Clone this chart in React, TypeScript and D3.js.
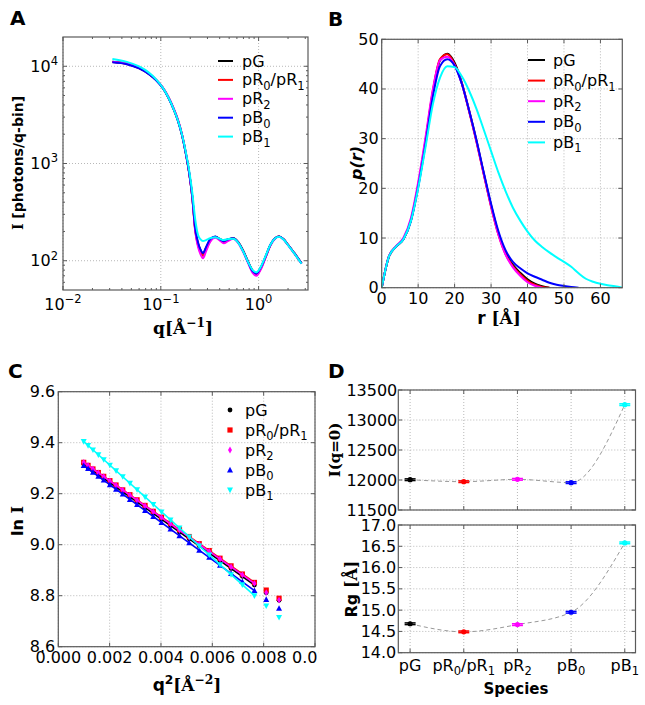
import React from 'react';
import * as d3 from 'd3';

const SANS = "'DejaVu Sans', sans-serif";
const SERIF = "'DejaVu Serif', serif";
const ANG = '\u00C5';

const NAMES = ['pG', 'pR_0/pR_1', 'pR_2', 'pB_0', 'pB_1'];
const COLORS = ['#000000', '#ff0000', '#ff00ff', '#0000ff', '#00ffff'];

// ---- Panel A : scattering curves I(q)
const Q_A = [0.032, 0.045, 0.06, 0.075, 0.09, 0.105, 0.12, 0.135, 0.15, 0.165, 0.18, 0.195, 0.21, 0.225, 0.24, 0.255, 0.27, 0.29, 0.32, 0.36, 0.40, 0.44, 0.49, 0.55, 0.62, 0.70, 0.78, 0.87, 0.95, 1.05, 1.18, 1.32, 1.48, 1.62, 1.8, 2.0, 2.3, 2.75];
const I_PG = [11100, 10600, 9600, 8400, 7200, 6000, 4750, 3650, 2750, 1950, 1280, 800, 450, 210, 150, 128, 118, 135, 163, 176, 168, 160, 166, 170, 155, 125, 98, 79, 74, 84, 110, 145, 170, 177, 166, 146, 121, 94];
const I_PR01 = [11050, 10550, 9580, 8400, 7200, 6000, 4780, 3680, 2780, 1970, 1290, 800, 445, 205, 145, 122, 112, 130, 160, 175, 165, 155, 163, 169, 154, 124, 97, 77, 72, 82, 109, 144, 170, 177, 166, 146, 121, 94];
const I_PR2 = [11100, 10600, 9650, 8450, 7250, 6050, 4800, 3700, 2800, 1980, 1300, 810, 445, 200, 140, 116, 106, 125, 157, 172, 162, 151, 160, 168, 152, 121, 95, 75, 70, 81, 108, 143, 169, 176, 165, 145, 120, 93];
const I_PB0 = [11000, 10500, 9500, 8350, 7150, 5950, 4720, 3630, 2730, 1940, 1270, 800, 455, 215, 155, 130, 120, 138, 167, 177, 167, 159, 166, 170, 154, 124, 97, 78, 74, 85, 111, 146, 171, 177, 166, 146, 121, 94];
const I_PB1 = [11900, 11100, 9950, 8650, 7300, 6000, 4750, 3650, 2750, 1970, 1320, 850, 500, 265, 185, 166, 160, 163, 170, 174, 168, 163, 167, 168, 153, 123, 97, 80, 76, 86, 112, 146, 170, 176, 165, 145, 120, 93];
const A_X_TICKS = [0.01, 0.1, 1];
const A_X_LABELS = ['-2', '-1', '0'];
const A_Y_TICKS = [100, 1000, 10000];
const A_Y_LABELS = ['2', '3', '4'];

// ---- Panel B : pair distance distributions p(r)
const R_GRID = [0, 2, 4, 6, 8, 10, 12, 14, 16, 18, 20, 22, 24, 26, 28, 30, 32, 34, 36, 38, 40, 42, 44, 46, 48, 50, 52, 54, 56, 58, 60, 62, 64, 66];
const P_PG = [0, 6.3, 8.3, 9.8, 13.5, 20.5, 29.3, 39.2, 45.8, 47.1, 45.3, 41.2, 35.6, 29.6, 23.0, 16.6, 11.0, 7.0, 4.6, 3.0, 1.7, 0.8, 0.3, 0];
const P_PR01 = [0, 6.3, 8.3, 9.9, 13.6, 20.7, 29.6, 39.5, 46.0, 47.0, 45.0, 41.0, 35.4, 29.3, 22.8, 16.3, 10.7, 6.7, 4.3, 2.7, 1.4, 0.6, 0.15, 0];
const P_PR2 = [0, 6.4, 8.4, 10.1, 14.0, 21.2, 30.2, 39.8, 45.8, 46.5, 44.8, 41.0, 35.5, 29.4, 22.9, 16.4, 10.7, 6.6, 4.1, 2.4, 1.1, 0.4, 0];
const P_PB0 = [0, 6.3, 8.3, 9.8, 13.4, 20.2, 28.8, 38.3, 44.6, 46.0, 44.7, 41.0, 35.6, 29.7, 23.2, 16.9, 11.4, 7.5, 5.2, 3.9, 2.9, 2.2, 1.6, 1.0, 0.6, 0.35, 0.15, 0];
const P_PB1 = [0, 6.3, 8.3, 9.8, 13.4, 20.0, 28.2, 36.8, 42.3, 44.6, 44.4, 42.5, 39.6, 36.0, 31.8, 27.5, 23.2, 19.4, 16.1, 13.5, 11.3, 9.5, 8.2, 7.1, 6.1, 5.2, 4.2, 2.9, 1.8, 1.2, 0.8, 0.5, 0.3, 0];
const B_X_TICKS = [0, 10, 20, 30, 40, 50, 60];
const B_Y_TICKS = [0, 10, 20, 30, 40, 50];

// ---- Panel C : Guinier plots
const Q2_C = [0.00099, 0.00116, 0.00135, 0.00156, 0.00177, 0.00201, 0.00225, 0.00251, 0.00279, 0.00307, 0.00338, 0.0037, 0.00402, 0.00437, 0.00472, 0.0051, 0.00549, 0.00588, 0.0063, 0.00673, 0.00717, 0.00764, 0.0081, 0.0086];
const FIT_N = 22;
const LN_PG = [9.316, 9.303, 9.290, 9.275, 9.260, 9.243, 9.226, 9.207, 9.187, 9.167, 9.145, 9.123, 9.100, 9.075, 9.050, 9.023, 8.995, 8.967, 8.937, 8.907, 8.876, 8.842, 8.812, 8.782];
const LN_PR01 = [9.323, 9.311, 9.297, 9.283, 9.268, 9.251, 9.234, 9.215, 9.196, 9.176, 9.154, 9.131, 9.108, 9.084, 9.059, 9.032, 9.004, 8.977, 8.947, 8.917, 8.885, 8.852, 8.822, 8.790];
const LN_PR2 = [9.323, 9.311, 9.297, 9.282, 9.267, 9.250, 9.233, 9.214, 9.194, 9.174, 9.152, 9.129, 9.107, 9.082, 9.057, 9.029, 9.002, 8.974, 8.944, 8.913, 8.882, 8.848, 8.812, 8.783];
const LN_PB0 = [9.310, 9.298, 9.284, 9.268, 9.253, 9.235, 9.217, 9.198, 9.177, 9.157, 9.134, 9.110, 9.087, 9.061, 9.035, 9.007, 8.978, 8.950, 8.919, 8.887, 8.855, 8.820, 8.785, 8.750];
const LN_PB1 = [9.405, 9.389, 9.372, 9.353, 9.334, 9.312, 9.290, 9.267, 9.241, 9.216, 9.187, 9.158, 9.129, 9.097, 9.066, 9.031, 8.995, 8.960, 8.922, 8.883, 8.843, 8.800, 8.760, 8.715];
const C_X_TICKS = [0, 0.002, 0.004, 0.006, 0.008, 0.010];
const C_Y_TICKS = [8.6, 8.8, 9.0, 9.2, 9.4, 9.6];

// ---- Panel D : I(0) and Rg per species
const I0 = [12005, 11972, 12011, 11956, 13256];
const I0_ERR = [14, 14, 14, 14, 14];
const RG = [14.68, 14.49, 14.66, 14.95, 16.58];
const RG_ERR = [0.02, 0.02, 0.02, 0.02, 0.02];
const D1_Y_TICKS = [11500, 12000, 12500, 13000, 13500];
const D2_Y_TICKS = [14.0, 14.5, 15.0, 15.5, 16.0, 16.5, 17.0];

const A_SERIES = [I_PG, I_PR01, I_PR2, I_PB0, I_PB1];
const B_SERIES = [P_PG, P_PR01, P_PR2, P_PB0, P_PB1];
const C_SERIES = [LN_PG, LN_PR01, LN_PR2, LN_PB0, LN_PB1];

type Seg = { t: string; k?: 'sub' | 'sup'; f?: string; i?: boolean };

function parseName(n: string): Seg[] {
  const out: Seg[] = [];
  let buf = '';
  for (let i = 0; i < n.length; i++) {
    if (n[i] === '_') {
      if (buf) out.push({ t: buf });
      buf = '';
      out.push({ t: n[i + 1], k: 'sub' });
      i++;
    } else buf += n[i];
  }
  if (buf) out.push({ t: buf });
  return out;
}

function Segs({ segs, size }: { segs: Seg[]; size: number }) {
  let off = 0;
  return (
    <>
      {segs.map((s, j) => {
        const target = s.k === 'sub' ? size * 0.28 : s.k === 'sup' ? -size * 0.42 : 0;
        const dy = target - off;
        off = target;
        return (
          <tspan key={j} dy={dy} fontSize={s.k ? size * 0.72 : size} fontFamily={s.f} fontStyle={s.i ? 'italic' : undefined}>
            {s.t}
          </tspan>
        );
      })}
    </>
  );
}

type Box = { l: number; r: number; t: number; b: number };

const GRID_C = '#b8b8b8';
const FRAME_C = '#5a5a5a';

function Grid({ box, xs, ys }: { box: Box; xs: number[]; ys: number[] }) {
  return (
    <g>
      {xs.map((x, i) => (
        <line key={'x' + i} x1={x} x2={x} y1={box.t} y2={box.b} stroke={GRID_C} strokeWidth={1} strokeDasharray="1,2" />
      ))}
      {ys.map((y, i) => (
        <line key={'y' + i} x1={box.l} x2={box.r} y1={y} y2={y} stroke={GRID_C} strokeWidth={1} strokeDasharray="1,2" />
      ))}
    </g>
  );
}

function Frame({ box, xs, ys, xm = [], ym = [] }: { box: Box; xs: number[]; ys: number[]; xm?: number[]; ym?: number[] }) {
  const els: JSX.Element[] = [];
  const add = (x1: number, y1: number, x2: number, y2: number) =>
    els.push(<line key={els.length} x1={x1} y1={y1} x2={x2} y2={y2} stroke={FRAME_C} strokeWidth={1} />);
  xs.forEach((x) => { add(x, box.b, x, box.b - 4); add(x, box.t, x, box.t + 4); });
  xm.forEach((x) => { add(x, box.b, x, box.b - 2); add(x, box.t, x, box.t + 2); });
  ys.forEach((y) => { add(box.l, y, box.l + 4, y); add(box.r, y, box.r - 4, y); });
  ym.forEach((y) => { add(box.l, y, box.l + 2, y); add(box.r, y, box.r - 2, y); });
  return (
    <g>
      {els}
      <rect x={box.l} y={box.t} width={box.r - box.l} height={box.b - box.t} fill="none" stroke={FRAME_C} strokeWidth={1.2} />
    </g>
  );
}

function Marker({ kind, x, y, color, s = 1 }: { kind: number; x: number; y: number; color: string; s?: number }) {
  if (kind === 0) return <circle cx={x} cy={y} r={2.4 * s} fill={color} />;
  if (kind === 1) return <rect x={x - 2.6 * s} y={y - 2.6 * s} width={5.2 * s} height={5.2 * s} fill={color} />;
  if (kind === 2)
    return <path d={`M${x},${y - 3.4 * s}L${x + 2 * s},${y}L${x},${y + 3.4 * s}L${x - 2 * s},${y}Z`} fill={color} />;
  if (kind === 3)
    return <path d={`M${x},${y - 3.2 * s}L${x + 3 * s},${y + 2.4 * s}L${x - 3 * s},${y + 2.4 * s}Z`} fill={color} />;
  return <path d={`M${x},${y + 3.2 * s}L${x + 3 * s},${y - 2.4 * s}L${x - 3 * s},${y - 2.4 * s}Z`} fill={color} />;
}

const TICK_FS = 16;
const LEG_FS = 16;

export default function App() {
  // ---------------- Panel A
  const boxA: Box = { l: 63, r: 308, t: 37, b: 290 };
  const ax = d3.scaleLog().domain([0.01, 3.2]).range([boxA.l, boxA.r]);
  const ay = d3.scaleLog().domain([50, 20000]).range([boxA.b, boxA.t]);
  const axMinor: number[] = [];
  [-2, -1, 0].forEach((k) => d3.range(2, 10).forEach((m) => { const v = m * Math.pow(10, k); if (v < 3.2) axMinor.push(ax(v)); }));
  const ayMinor: number[] = [];
  [1, 2, 3, 4].forEach((k) => d3.range(2, 10).forEach((m) => { const v = m * Math.pow(10, k); if (v > 50 && v < 20000) ayMinor.push(ay(v)); }));
  const lineA = d3.line<number>().x((_, i) => ax(Q_A[i])).y((d) => ay(d)).curve(d3.curveMonotoneX);

  // ---------------- Panel B
  const boxB: Box = { l: 381.7, r: 622.3, t: 39.3, b: 287.7 };
  const bx = d3.scaleLinear().domain([0, 66]).range([boxB.l, boxB.r]);
  const by = d3.scaleLinear().domain([0, 50]).range([boxB.b, boxB.t]);
  const lineB = d3.line<number>().x((_, i) => bx(R_GRID[i])).y((d) => by(d)).curve(d3.curveMonotoneX);

  // ---------------- Panel C
  const boxC: Box = { l: 58.3, r: 315, t: 391.7, b: 646.7 };
  const cx = d3.scaleLinear().domain([0, 0.01]).range([boxC.l, boxC.r]);
  const cy = d3.scaleLinear().domain([8.6, 9.6]).range([boxC.b, boxC.t]);
  const fits = C_SERIES.map((ys) => {
    const xs = Q2_C.slice(0, FIT_N);
    const yy = ys.slice(0, FIT_N);
    const mx = d3.mean(xs)!;
    const my = d3.mean(yy)!;
    let sxy = 0, sxx = 0;
    xs.forEach((x, i) => { sxy += (x - mx) * (yy[i] - my); sxx += (x - mx) * (x - mx); });
    const slope = sxy / sxx;
    const icpt = my - slope * mx;
    return [xs[0], xs[xs.length - 1]].map((x) => [x, icpt + slope * x] as [number, number]);
  });

  // ---------------- Panel D
  const boxD1: Box = { l: 398.3, r: 635.5, t: 390, b: 510 };
  const boxD2: Box = { l: 398.3, r: 635.5, t: 525, b: 652.7 };
  const dx = d3.scaleLinear().domain([-0.22, 4.2]).range([boxD1.l, boxD1.r]);
  const dy1 = d3.scaleLinear().domain([11500, 13500]).range([boxD1.b, boxD1.t]);
  const dy2 = d3.scaleLinear().domain([14, 17]).range([boxD2.b, boxD2.t]);
  const dLine1 = d3.line<number>().x((_, i) => dx(i)).y((d) => dy1(d)).curve(d3.curveMonotoneX);
  const dLine2 = d3.line<number>().x((_, i) => dx(i)).y((d) => dy2(d)).curve(d3.curveMonotoneX);
  const catX = NAMES.map((_, i) => dx(i));

  const errMark = (x: number, y: number, e: number, color: string, key: string) => (
    <g key={key}>
      <line x1={x} x2={x} y1={y - e} y2={y + e} stroke={color} strokeWidth={1.5} />
      <line x1={x - 5.5} x2={x + 5.5} y1={y - e} y2={y - e} stroke={color} strokeWidth={1.5} />
      <line x1={x - 5.5} x2={x + 5.5} y1={y + e} y2={y + e} stroke={color} strokeWidth={1.5} />
      <circle cx={x} cy={y} r={2.6} fill={color} />
    </g>
  );

  return (
    <svg width={645} height={705} style={{ position: 'absolute', left: 0, top: 0, background: '#fff' }} fontFamily={SANS}>
      <defs>
        <clipPath id="clipA"><rect x={boxA.l} y={boxA.t} width={boxA.r - boxA.l} height={boxA.b - boxA.t} /></clipPath>
        <clipPath id="clipB"><rect x={boxB.l} y={boxB.t} width={boxB.r - boxB.l} height={boxB.b - boxB.t} /></clipPath>
        <clipPath id="clipCt"><rect x={0} y={600} width={319} height={105} /></clipPath>
      </defs>
      <rect x={0} y={0} width={645} height={705} fill="#fff" />

      {/* Panel letters */}
      <text x={10} y={25} fontSize={20} fontWeight="bold">A</text>
      <text x={328} y={26} fontSize={20} fontWeight="bold">B</text>
      <text x={8} y={378} fontSize={20} fontWeight="bold">C</text>
      <text x={328} y={378} fontSize={20} fontWeight="bold">D</text>

      {/* ================= Panel A ================= */}
      <Grid box={boxA} xs={A_X_TICKS.map((v) => ax(v))} ys={A_Y_TICKS.map((v) => ay(v))} />
      <g clipPath="url(#clipA)">
        {A_SERIES.map((s, k) => (
          <path key={k} d={lineA(s) || ''} fill="none" stroke={COLORS[k]} strokeWidth={2} />
        ))}
      </g>
      <Frame box={boxA} xs={A_X_TICKS.map((v) => ax(v))} ys={A_Y_TICKS.map((v) => ay(v))} xm={axMinor} ym={ayMinor} />
      {A_X_TICKS.map((v, i) => (
        <text key={'axl' + i} x={ax(v)} y={boxA.b + 20} fontSize={TICK_FS} textAnchor="middle">
          <Segs size={TICK_FS} segs={[{ t: '10' }, { t: A_X_LABELS[i].replace('-', '\u2212'), k: 'sup' }]} />
        </text>
      ))}
      {A_Y_TICKS.map((v, i) => (
        <text key={'ayl' + i} x={boxA.l - 5} y={ay(v) + 5.5} fontSize={TICK_FS} textAnchor="end">
          <Segs size={TICK_FS} segs={[{ t: '10' }, { t: A_Y_LABELS[i], k: 'sup' }]} />
        </text>
      ))}
      <text transform={`translate(18,163) rotate(-90)`} y={4.5} fontSize={14} fontWeight="bold" textAnchor="middle">
        <tspan fontFamily={SERIF}>I</tspan>
        <tspan> [photons/q-bin]</tspan>
      </text>
      <text x={183} y={334} fontSize={17} fontWeight="bold" textAnchor="middle" fontFamily={SERIF}>
        <Segs size={17} segs={[{ t: 'q[' + ANG }, { t: '\u22121', k: 'sup' }, { t: ']' }]} />
      </text>
      {NAMES.map((n, i) => {
        const yy = 61 + i * 18.9;
        return (
          <g key={'lga' + i}>
            <line x1={218} x2={233} y1={yy} y2={yy} stroke={COLORS[i]} strokeWidth={2} />
            <text x={242} y={yy + 5.5} fontSize={LEG_FS}>
              <Segs size={LEG_FS} segs={parseName(n)} />
            </text>
          </g>
        );
      })}

      {/* ================= Panel B ================= */}
      <Grid box={boxB} xs={B_X_TICKS.map((v) => bx(v))} ys={B_Y_TICKS.map((v) => by(v))} />
      <g clipPath="url(#clipB)">
        {B_SERIES.map((s, k) => (
          <path key={k} d={lineB(s) || ''} fill="none" stroke={COLORS[k]} strokeWidth={2} />
        ))}
      </g>
      <Frame box={boxB} xs={B_X_TICKS.map((v) => bx(v))} ys={B_Y_TICKS.map((v) => by(v))} />
      {B_X_TICKS.map((v, i) => (
        <text key={'bxl' + i} x={bx(v)} y={boxB.b + 16} fontSize={TICK_FS} textAnchor="middle">{v}</text>
      ))}
      {B_Y_TICKS.map((v, i) => (
        <text key={'byl' + i} x={boxB.l - 3} y={by(v) + 5.5} fontSize={TICK_FS} textAnchor="end">{v}</text>
      ))}
      <text transform={`translate(357,163) rotate(-90)`} y={5} fontSize={16} fontWeight="bold" fontStyle="italic" textAnchor="middle">p(r)</text>
      <text x={499} y={324} fontSize={17} fontWeight="bold" textAnchor="middle">
        <tspan>r </tspan>
        <tspan fontFamily={SERIF}>{'[' + ANG + ']'}</tspan>
      </text>
      {NAMES.map((n, i) => {
        const yy = 60 + i * 20.6;
        return (
          <g key={'lgb' + i}>
            <line x1={528} x2={545} y1={yy} y2={yy} stroke={COLORS[i]} strokeWidth={2} />
            <text x={553} y={yy + 5.5} fontSize={LEG_FS}>
              <Segs size={LEG_FS} segs={parseName(n)} />
            </text>
          </g>
        );
      })}

      {/* ================= Panel C ================= */}
      <Grid box={boxC} xs={C_X_TICKS.map((v) => cx(v))} ys={C_Y_TICKS.map((v) => cy(v))} />
      {C_SERIES.map((s, k) => (
        <g key={'cs' + k}>
          <line x1={cx(fits[k][0][0])} y1={cy(fits[k][0][1])} x2={cx(fits[k][1][0])} y2={cy(fits[k][1][1])} stroke={COLORS[k]} strokeWidth={1.6} />
          {s.map((v, i) => (
            <Marker key={i} kind={k} x={cx(Q2_C[i])} y={cy(v)} color={COLORS[k]} />
          ))}
        </g>
      ))}
      <Frame box={boxC} xs={C_X_TICKS.map((v) => cx(v))} ys={C_Y_TICKS.map((v) => cy(v))} />
      <g clipPath="url(#clipCt)">
        {C_X_TICKS.map((v, i) => (
          <text key={'cxl' + i} x={cx(v)} y={boxC.b + 16} fontSize={TICK_FS} textAnchor="middle">{v.toFixed(3)}</text>
        ))}
      </g>
      {C_Y_TICKS.map((v, i) => (
        <text key={'cyl' + i} x={boxC.l - 3} y={cy(v) + 5.5} fontSize={TICK_FS} textAnchor="end">{v.toFixed(1)}</text>
      ))}
      <text transform={`translate(18,521) rotate(-90)`} y={5} fontSize={16} fontWeight="bold" textAnchor="middle">
        <tspan>ln </tspan>
        <tspan fontFamily={SERIF}>I</tspan>
      </text>
      <text x={187} y={691} fontSize={17} fontWeight="bold" textAnchor="middle">
        <Segs size={17} segs={[{ t: 'q' }, { t: '2', k: 'sup' }, { t: '[' + ANG, f: SERIF }, { t: '\u22122', k: 'sup', f: SERIF }, { t: ']', f: SERIF }]} />
      </text>
      {NAMES.map((n, i) => {
        const yy = 410 + i * 20;
        return (
          <g key={'lgc' + i}>
            <Marker kind={i} x={230} y={yy} color={COLORS[i]} />
            <text x={245} y={yy + 5.5} fontSize={LEG_FS}>
              <Segs size={LEG_FS} segs={parseName(n)} />
            </text>
          </g>
        );
      })}

      {/* ================= Panel D ================= */}
      <Grid box={boxD1} xs={catX} ys={D1_Y_TICKS.map((v) => dy1(v))} />
      <path d={dLine1(I0) || ''} fill="none" stroke="#999" strokeWidth={1} strokeDasharray="4,3" />
      {I0.map((v, i) => errMark(dx(i), dy1(v), Math.abs(dy1(v + I0_ERR[i]) - dy1(v)), COLORS[i], 'd1' + i))}
      <Frame box={boxD1} xs={catX} ys={D1_Y_TICKS.map((v) => dy1(v))} />
      {D1_Y_TICKS.map((v, i) => (
        <text key={'d1l' + i} x={boxD1.l - 1} y={dy1(v) + 5.5} fontSize={TICK_FS} textAnchor="end">{v}</text>
      ))}
      <Grid box={boxD2} xs={catX} ys={D2_Y_TICKS.map((v) => dy2(v))} />
      <path d={dLine2(RG) || ''} fill="none" stroke="#999" strokeWidth={1} strokeDasharray="4,3" />
      {RG.map((v, i) => errMark(dx(i), dy2(v), Math.abs(dy2(v + RG_ERR[i]) - dy2(v)), COLORS[i], 'd2' + i))}
      <Frame box={boxD2} xs={catX} ys={D2_Y_TICKS.map((v) => dy2(v))} />
      {D2_Y_TICKS.map((v, i) => (
        <text key={'d2l' + i} x={boxD2.l - 2} y={dy2(v) + 5.5} fontSize={TICK_FS} textAnchor="end">{v.toFixed(1)}</text>
      ))}
      {NAMES.map((n, i) => (
        <text key={'dxl' + i} x={dx(i)} y={671} fontSize={TICK_FS} textAnchor="middle">
          <Segs size={TICK_FS} segs={parseName(n)} />
        </text>
      ))}
      <text transform={`translate(335,450) rotate(-90)`} y={5} fontSize={15} fontWeight="bold" textAnchor="middle" fontFamily={SERIF}>I(q=0)</text>
      <text transform={`translate(352,589) rotate(-90)`} y={5} fontSize={16} fontWeight="bold" textAnchor="middle">
        <tspan>Rg </tspan>
        <tspan fontFamily={SERIF}>{'[' + ANG + ']'}</tspan>
      </text>
      <text x={516} y={694} fontSize={15} fontWeight="bold" textAnchor="middle">Species</text>
    </svg>
  );
}
